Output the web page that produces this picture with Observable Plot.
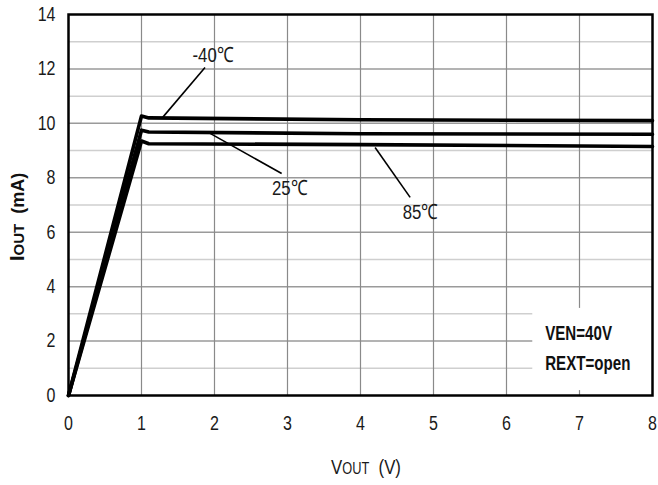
<!DOCTYPE html>
<html>
<head>
<meta charset="utf-8">
<script src="https://cdn.jsdelivr.net/npm/d3@7"></script>
<script src="https://cdn.jsdelivr.net/npm/@observablehq/plot@0.6"></script>
<style>
  html, body { margin: 0; padding: 0; background: #fff; }
  #chart svg { display: block; }
</style>
</head>
<body>
<div id="chart"></div>
<script>
// ---- data ----
const series = ["-40℃", "25℃", "85℃"];
const vout_m40 = [0, 1.0, 1.1, 4, 8];
const iout_m40 = [0, 10.27, 10.2, 10.13, 10.1];
const vout_25  = [0, 1.0, 1.1, 4, 8];
const iout_25  = [0, 9.75, 9.68, 9.62, 9.6];
const vout_85  = [0, 1.0, 1.1, 4, 8];
const iout_85  = [0, 9.35, 9.25, 9.22, 9.15];

const xTicks = [0, 1, 2, 3, 4, 5, 6, 7, 8];
const yTicks = [0, 2, 4, 6, 8, 10, 12, 14];
const yMajorGrid = [2, 4, 6, 8, 10, 12];
const yMinorGrid = [1, 3, 5, 7, 9, 11, 13];
const xGrid = [1, 2, 3, 4, 5, 6, 7];

// annotation labels with leader lines (data units)
const labelText = ["-40℃", "25℃", "85℃"];
const labelX = [1.98, 3.03, 4.82];
const labelY = [12.5, 7.6, 6.73];
const leadX1 = [1.87, 2.92, 4.68];
const leadY1 = [12.05, 8.16, 7.28];
const leadX2 = [1.29, 1.94, 4.2];
const leadY2 = [10.22, 9.63, 9.11];

// condition box
const condText = ["VEN=40V", "REXT=open"];
const condX = [6.53, 6.53];
const condY = [2.3, 1.2];
const boxX = [6.36, 8];
const boxY = [0.18, 3.2];

// ---- build tables ----
const lines = [];
[[vout_m40, iout_m40], [vout_25, iout_25], [vout_85, iout_85]].forEach(([xs, ys], i) => {
  xs.forEach((v, j) => lines.push({ series: series[i], v, i: ys[j] }));
});
const labels = labelText.map((t, k) => ({ t, x: labelX[k], y: labelY[k], x1: leadX1[k], y1: leadY1[k], x2: leadX2[k], y2: leadY2[k] }));
const conds = condText.map((t, k) => ({ t, x: condX[k], y: condY[k] }));

const FONT = "'Liberation Sans', Arial, sans-serif";

const chart = Plot.plot({
  width: 658,
  height: 485,
  marginTop: 14,
  marginRight: 6,
  marginBottom: 90,
  marginLeft: 68,
  style: { fontFamily: FONT, fontSize: "20px", color: "#1a1a1a", background: "#fff" },
  x: { domain: [0, 8], ticks: xTicks, tickSize: 0, tickPadding: 20, label: null },
  y: { domain: [0, 14], ticks: yTicks, tickSize: 0, tickPadding: 13, label: null },
  marks: [
    Plot.ruleY(yMinorGrid, { stroke: "#cfcfcf", strokeWidth: 1.5 }),
    Plot.ruleY(yMajorGrid, { stroke: "#9a9a9a", strokeWidth: 1.5 }),
    Plot.ruleX(xGrid, { stroke: "#8a8a8a", strokeWidth: 1.2 }),
    Plot.rect([{ x1: boxX[0], x2: boxX[1], y1: boxY[0], y2: boxY[1] }], { x1: "x1", x2: "x2", y1: "y1", y2: "y2", fill: "#fff" }),
    Plot.line(lines, { x: "v", y: "i", z: "series", stroke: "#000", strokeWidth: 3.6, strokeLinejoin: "round" }),
    Plot.link(labels, { x1: "x1", y1: "y1", x2: "x2", y2: "y2", stroke: "#000", strokeWidth: 1.6 }),
    Plot.text(labels, { x: "x", y: "y", text: "t", fontSize: 21, fill: "#1a1a1a", fontFamily: FONT }),
    Plot.text(conds, { x: "x", y: "y", text: "t", textAnchor: "start", fontSize: 21, fontWeight: "bold", fill: "#111", fontFamily: FONT, className: "cond" }),
    Plot.frame({ stroke: "#000", strokeWidth: 2.5 })
  ]
});

const svg = d3.select(chart);

// x axis title
const xt = svg.append("text")
  .attr("x", 366).attr("y", 474)
  .attr("text-anchor", "middle")
  .attr("font-family", FONT)
  .attr("fill", "#1a1a1a");
xt.append("tspan").attr("font-size", 21).text("V");
xt.append("tspan").attr("font-size", 16).text("OUT");
xt.append("tspan").attr("font-size", 21).attr("xml:space", "preserve").text("  (V)");

// condense all text horizontally (narrow font look), anchored at each text's own x
svg.selectAll("text").each(function () {
  const inCond = this.closest && this.closest(".cond");
  const s = inCond ? 0.72 : 0.8;
  const t = this.getAttribute("transform") || "";
  const x = +(this.getAttribute("x") || 0);
  this.setAttribute("transform", `${t} translate(${x},0) scale(${s},1) translate(${-x},0)`);
});

// y axis title (bold, unscaled)
const yg = svg.append("g").attr("transform", "translate(24,217) rotate(-90)");
const yt = yg.append("text")
  .attr("text-anchor", "middle")
  .attr("font-family", FONT)
  .attr("font-weight", "bold")
  .attr("fill", "#111");
yt.append("tspan").attr("font-size", 21).text("I");
yt.append("tspan").attr("font-size", 15).text("OUT");
yt.append("tspan").attr("font-size", 18).attr("xml:space", "preserve").text("  (mA)");

document.getElementById("chart").appendChild(chart);
</script>
</body>
</html>
